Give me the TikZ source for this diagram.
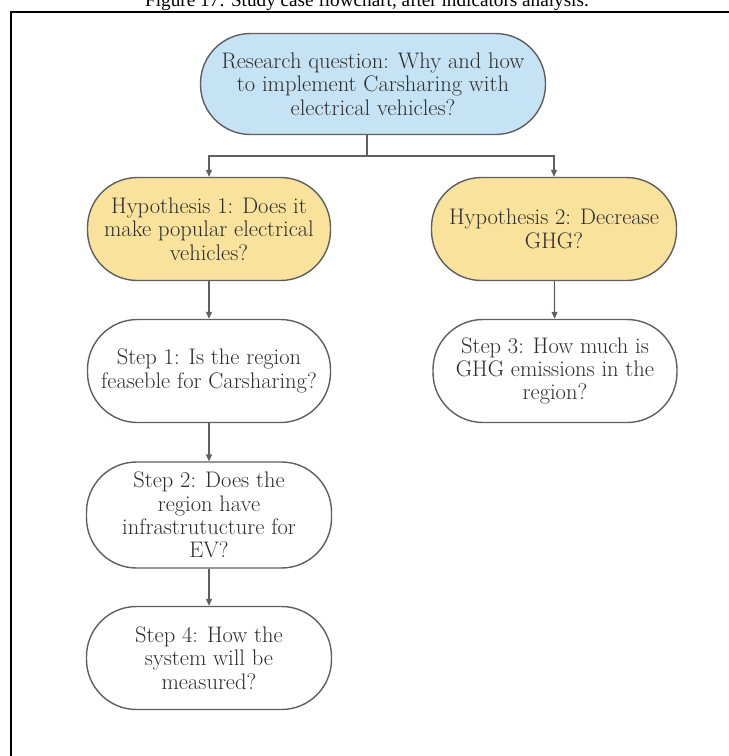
\documentclass[tikz,border=0pt]{standalone}
\usepackage{fontspec}
\newfontfamily\capfont{Liberation Serif}
\usetikzlibrary{arrows.meta}
\definecolor{qblue}{RGB}{197,227,244}
\definecolor{hyellow}{RGB}{249,226,156}
\definecolor{edge}{RGB}{95,95,95}
\definecolor{ink}{RGB}{45,45,45}
\tikzset{
  pill/.style={draw=edge, line width=1.4pt, rounded corners=50pt, align=center,
    text=ink, font=\fontsize{22.5}{23.3}\selectfont, inner sep=0pt},
  question/.style={pill, fill=qblue},
  hypothesis/.style={pill, fill=hyellow},
  stepbox/.style={pill, fill=white},
  link/.style={draw=edge, line width=1.2pt},
  flow/.style={link, -{Triangle[length=7pt,width=6pt]}},
}
\begin{document}
\begin{tikzpicture}[x=1pt,y=-1pt]
\useasboundingbox (0,0) rectangle (729,756);
\clip (0,0) rectangle (729,756);
% caption and frame
\node[font=\capfont\fontsize{19.2}{22}\selectfont, anchor=base] (cap) at (367,6.5) {Figure 17: Study case flowchart, after indicators analysis.};
\draw[line width=2pt] (10.5,760) -- (10.5,12) -- (735,12);
% nodes
\node[question, minimum width=345pt, minimum height=101pt] (rq) at (373,84)
  {Research question: Why and how\\to implement Carsharing with\\electrical vehicles?};
\node[hypothesis, minimum width=243pt, minimum height=103pt] (h1) at (209,229)
  {Hypothesis 1: Does it\\make popular electrical\\vehicles?};
\node[hypothesis, minimum width=245pt, minimum height=103pt] (h2) at (554,229)
  {Hypothesis 2: Decrease\\GHG?};
\node[stepbox, minimum width=243pt, minimum height=103pt] (s1) at (209,371)
  {Step 1: Is the region\\feaseble for Carsharing?};
\node[stepbox, minimum width=244pt, minimum height=103pt] (s3) at (555,371)
  {Step 3: How much is\\GHG emissions in the\\region?};
\node[stepbox, minimum width=245pt, minimum height=106pt] (s2) at (209,515)
  {Step 2: Does the\\region have\\infrastrutucture for\\EV?};
\node[stepbox, minimum width=245pt, minimum height=103pt] (s4) at (209,658)
  {Step 4: How the\\system will be\\measured?};
% connectors
\coordinate (split) at (367,156);
\draw[link] (rq.south -| split) -- (split);
\draw[flow] (split) -| (h1.north);
\draw[flow] (split) -| (h2.north);
\draw[flow] (h1) -- (s1);
\draw[flow] (h2) -- (s3);
\draw[flow] (s1) -- (s2);
\draw[flow] (s2) -- (s4);
\end{tikzpicture}
\end{document}
